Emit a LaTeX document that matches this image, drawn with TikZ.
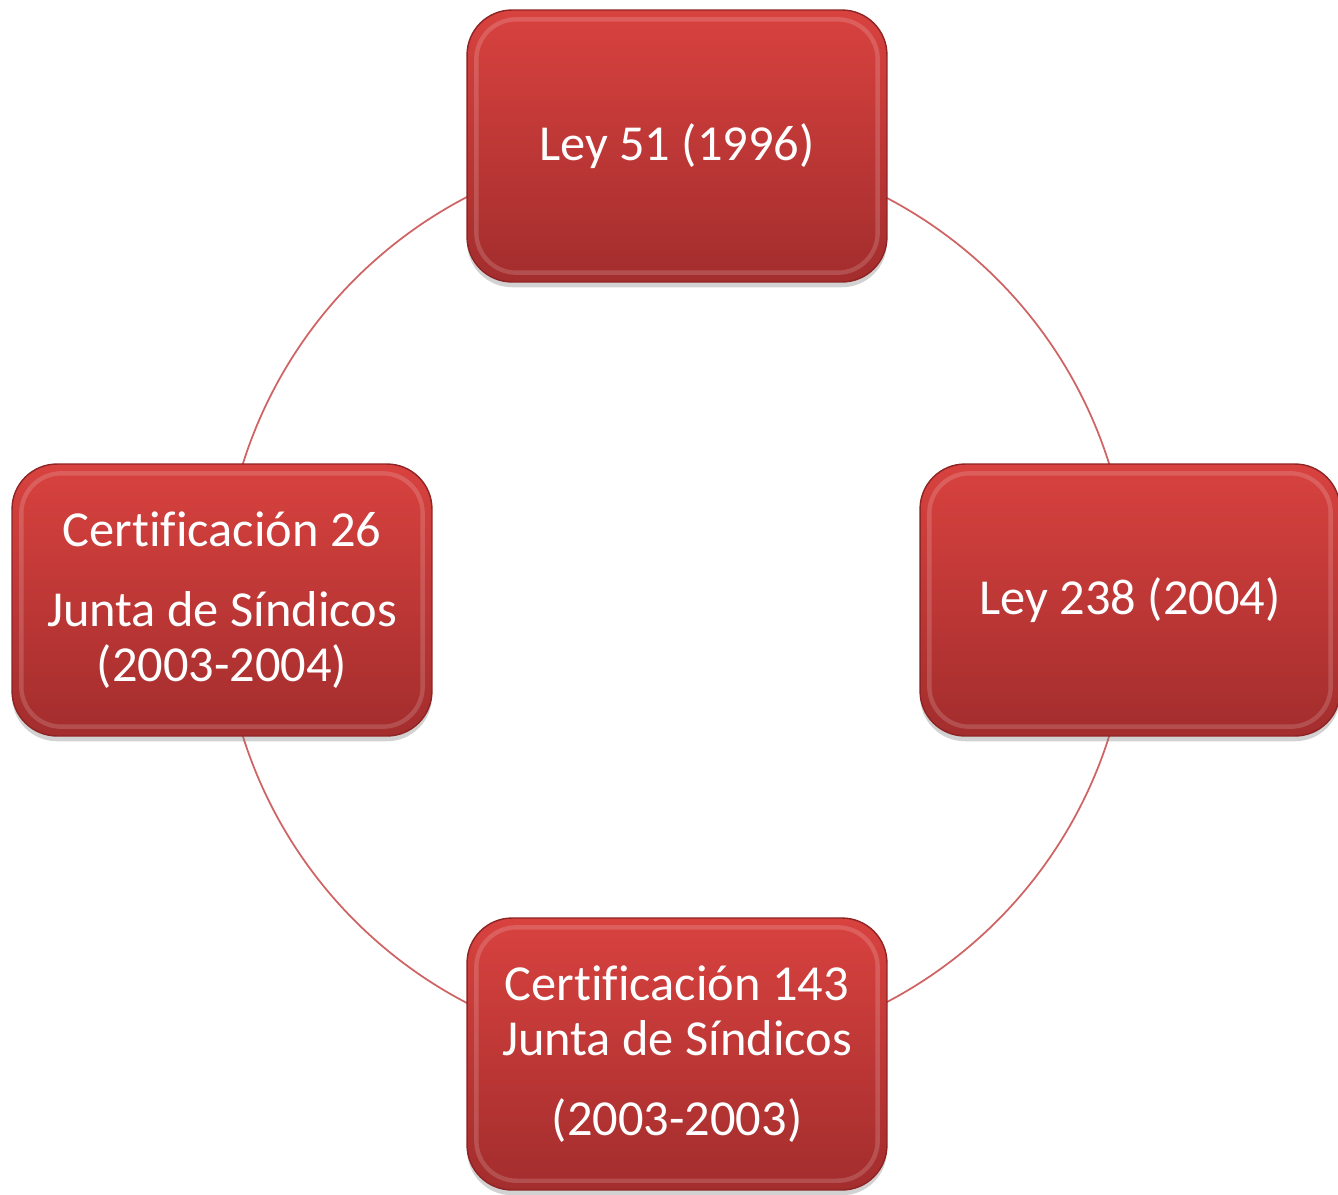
\documentclass[tikz,border=0pt]{standalone}
\usepackage{fontspec}
\setmainfont{Carlito}[Ligatures=NoCommon]
\usetikzlibrary{shadows}
\definecolor{boxtop}{HTML}{D8423F}
\definecolor{boxbottom}{HTML}{A32D2D}
\definecolor{boxedge}{HTML}{8E2424}
\definecolor{ringred}{HTML}{D06464}
\begin{document}
\begin{tikzpicture}[x=0.02cm,y=-0.02cm,
    lawbox/.style={rounded corners=0.9cm,draw=boxedge,line width=0.8pt,
        top color=boxtop,bottom color=boxbottom,
        minimum width=8.4cm,minimum height=5.44cm,align=center,text=white,
        font=\fontsize{28.7}{31.5}\selectfont,
        drop shadow={opacity=0.35,shadow xshift=0pt,shadow yshift=-3pt}},
    bevel/.style={rounded corners=0.8cm,draw=white,opacity=0.16,line width=2.5pt}]
            \useasboundingbox (0,0) rectangle (1338,1194);
            \fill [white] (0,0) rectangle (1338,1194);
            \coordinate (c) at (676,600);
            \draw [ringred,line width=1pt] (c) circle [radius=9.08cm];
            \node [lawbox] (ley51) at (677,146) {Ley 51 (1996)};
            \node [lawbox] (ley238) at (1130,600) {Ley 238 (2004)};
            \node [lawbox] (cert143) at (677,1054) {Certificación 143\\Junta de Síndicos\\[14pt](2003-2003)};
            \node [lawbox] (cert26) at (222,600) {Certificación 26\\[14pt]Junta de Síndicos\\(2003-2004)};
            \draw [bevel] ([shift={(10,-10)}]ley51.south west) rectangle ([shift={(-10,10)}]ley51.north east);
            \draw [bevel] ([shift={(10,-10)}]ley238.south west) rectangle ([shift={(-10,10)}]ley238.north east);
            \draw [bevel] ([shift={(10,-10)}]cert143.south west) rectangle ([shift={(-10,10)}]cert143.north east);
            \draw [bevel] ([shift={(10,-10)}]cert26.south west) rectangle ([shift={(-10,10)}]cert26.north east);
\end{tikzpicture}
\end{document}
